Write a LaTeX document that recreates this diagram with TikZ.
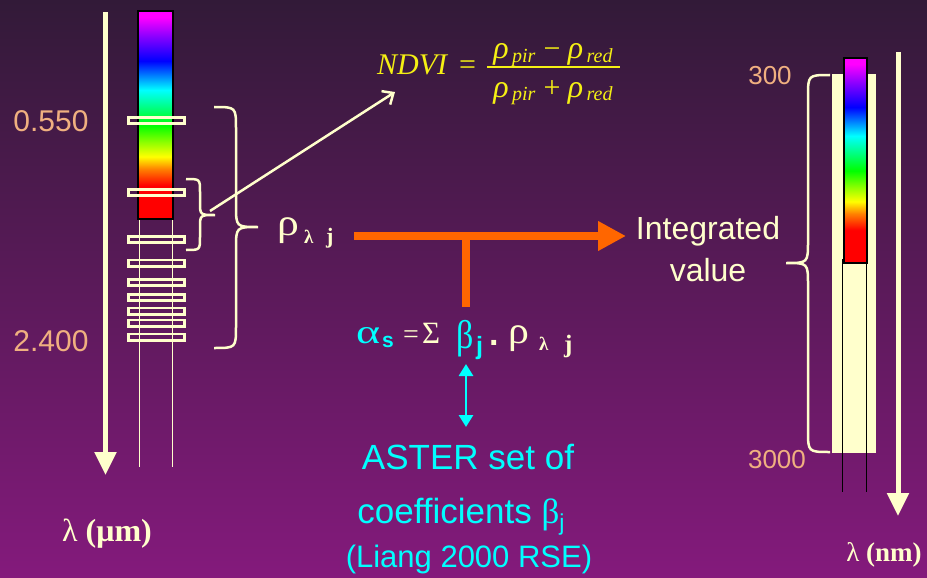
\documentclass[tikz,border=0pt]{standalone}
\usepackage{fontspec}
\usepackage{graphicx}
\setmainfont{Liberation Sans}
\newfontfamily\serif{Liberation Serif}
\newfontfamily\sansbold{Liberation Sans Bold}
\usetikzlibrary{arrows.meta}
\definecolor{cream}{RGB}{255,255,204}
\definecolor{salmon}{RGB}{240,176,128}
\definecolor{bgtop}{RGB}{50,26,56}
\definecolor{bgbot}{RGB}{132,26,124}
\definecolor{orng}{RGB}{255,102,0}
\definecolor{cyn}{RGB}{0,255,255}
\definecolor{ylw}{RGB}{245,240,20}
\definecolor{spM}{RGB}{255,0,255}
\definecolor{spV}{RGB}{140,0,255}
\definecolor{spB}{RGB}{0,0,255}
\definecolor{spA}{RGB}{0,128,255}
\definecolor{spC}{RGB}{0,255,255}
\definecolor{spG}{RGB}{0,255,0}
\definecolor{spL}{RGB}{140,255,0}
\definecolor{spY}{RGB}{255,255,0}
\definecolor{spO}{RGB}{255,128,0}
\definecolor{spR}{RGB}{255,0,0}
\pgfdeclareverticalshading{spec}{100bp}{color(0bp)=(spR); color(25bp)=(spR); color(33bp)=(spR); color(37bp)=(spO); color(40bp)=(spY); color(43.5bp)=(spL); color(47.5bp)=(spG); color(56bp)=(spC); color(59.5bp)=(spA); color(63bp)=(spB); color(69bp)=(spV); color(73.5bp)=(spM); color(100bp)=(spM)}
\newcommand\myfs[1]{\fontsize{#1}{#1}\selectfont}
\tikzset{
  txt/.style={inner sep=0pt, anchor=base west},
  ctxt/.style={inner sep=0pt, anchor=base},
  brace/.style={draw=cream, line width=2.5pt},
  band/.style={draw=cream, line width=2.6pt},
  axisarrow/.style={draw=cream, line width=5pt, -{Triangle[length=23pt,width=21pt]}},
}
\begin{document}
\begin{tikzpicture}[x=1pt,y=-1pt]
\useasboundingbox (0,0) rectangle (927,578);
\shade[top color=bgtop,bottom color=bgbot] (0,0) rectangle (927,578);

% ---------- left scale ----------
\coordinate (la1) at (105.5,12);
\coordinate (la2) at (105.5,475);
\draw[axisarrow] (la1) -- (la2);
\draw[cream, line width=1pt] (139,219) -- (139,467);
\draw[cream, line width=1pt] (172,219) -- (172,467);
\shade[shading=spec] (138,11) rectangle (173,219);
\draw[black, line width=1.3pt] (138,11) rectangle (173,219);
\foreach \c in {120.5,192.5,239.5,263,282.5,297.5,311,323,337}
  \draw[band] (128.3,{\c-3.2}) rectangle (184.7,{\c+3.2});

\node[salmon, inner sep=0pt, font=\myfs{30}] (t550) at (51,121) {0.550};
\node[salmon, inner sep=0pt, font=\myfs{30}] (t2400) at (51,341) {2.400};
\node[cream, ctxt, font=\myfs{32}\serif] (lum) at (107,541) {λ \textbf{(μm)}};

% braces
\draw[brace] (186,179) .. controls (200,179) .. (200,192) -- (200,202)
  .. controls (200,215) .. (215,215) .. controls (200,215) .. (200,228)
  -- (200,237) .. controls (200,250) .. (186,250);
\draw[brace] (214,107) .. controls (236,107) .. (236,129) -- (236,205)
  .. controls (236,227) .. (258,227) .. controls (236,227) .. (236,249)
  -- (236,326) .. controls (236,348) .. (214,348);

% rho lambda j
\node[cream, txt, font=\myfs{38}\serif] (rho1) at (277,235) {\scalebox{1.15}[1]{ρ}};
\node[cream, txt, font=\myfs{19}\serif\bfseries] (lj1) at (304,243) {λ};
\node[cream, txt, font=\myfs{22}\serif\bfseries] (jj1) at (326,243) {j};

% arrow to NDVI
\coordinate (sb) at (210,211);
\coordinate (nd) at (395,92);
\draw[cream, line width=2.5pt, -{Straight Barb[length=9pt,width=16pt]}] (sb) -- (nd);

% NDVI formula
\node[ylw, txt, font=\myfs{30}\serif\itshape] (ndvi) at (377,75) {NDVI};
\node[ylw, txt, font=\myfs{30}\serif] (eq) at (459,75) {=};
\node[ylw, ctxt, font=\serif\itshape] (num) at (553,59) {\myfs{32}ρ\raisebox{-4pt}{\myfs{20}\,pir} \upshape\myfs{30}−\itshape\ \myfs{32}ρ\raisebox{-4pt}{\myfs{20}\,red}};
\node[ylw, ctxt, font=\serif\itshape] (den) at (553,97) {\myfs{32}ρ\raisebox{-4pt}{\myfs{20}\,pir} \upshape\myfs{30}+\itshape\ \myfs{32}ρ\raisebox{-4pt}{\myfs{20}\,red}};
\coordinate (fb1) at (487,67);
\coordinate (fb2) at (620,67);
\draw[ylw, line width=1.3pt] (fb1) -- (fb2);

% orange T arrow
\coordinate (o1) at (354,236);
\coordinate (o2) at (626,236);
\coordinate (o3) at (466,236);
\coordinate (o4) at (466,307);
\draw[orng, line width=8pt, -{Triangle[length=28pt,width=28pt]}] (o1) -- (o2);
\draw[orng, line width=8pt] (o3) -- (o4);

% Integrated value
\node[cream, ctxt, font=\myfs{32}] (int) at (708,239) {Integrated};
\node[cream, ctxt, font=\myfs{32}] (val) at (708,281) {value};

% alpha formula
\node[cyn, txt, font=\myfs{34}\serif] (alpha) at (356,343) {\scalebox{1.35}[1]{α}};
\node[cyn, txt, font=\myfs{21}\sansbold] (sub-s) at (382,347) {s};
\node[cream, txt, font=\myfs{28}\serif] (eqs) at (403,343) {=};
\node[cream, txt, font=\myfs{31}\serif] (sigma) at (422,343) {Σ};
\node[cyn, txt, font=\myfs{40}\serif] (beta) at (456,348) {\scalebox{0.85}[1]{β}};
\node[cyn, txt, font=\myfs{25}\sansbold] (sub-j) at (476,354) {j};
\node[cream, txt, font=\myfs{34}\sansbold] (dot) at (489,345) {.};
\node[cream, txt, font=\myfs{38}\serif] (rho2) at (508,343) {\scalebox{1.1}[1]{ρ}};
\node[cream, txt, font=\myfs{19}\serif\bfseries] (lam2) at (539,350) {λ};
\node[cream, txt, font=\myfs{25}\serif\bfseries] (j2) at (564,352) {j};

% cyan double arrow
\coordinate (c1) at (466,364);
\coordinate (c2) at (466,427);
\draw[cyn, line width=2.8pt, {Triangle[length=12pt,width=14pt]}-{Triangle[length=12pt,width=14pt]}] (c1) -- (c2);

% ASTER text
\node[cyn, ctxt, font=\myfs{35}] (ast) at (468,469) {ASTER set of};
\node[cyn, ctxt, font=\myfs{35}] (coef) at (461,523) {coefficients {\serif β}\raisebox{-7pt}{\myfs{23}j}};
\node[cyn, ctxt, font=\myfs{31}] (liang) at (469,567) {(Liang 2000 RSE)};

% ---------- right scale ----------
\fill[cream] (832,74) rectangle (876,453);
\shade[shading=spec] (844,58) rectangle (867,263);
\draw[black, line width=1.3pt] (844,58) rectangle (867,263);
\draw[black, line width=1pt] (842,259) -- (842,492);
\draw[black, line width=1pt] (866,263) -- (866,492);
\coordinate (ra1) at (898,52);
\coordinate (ra2) at (898,516);
\draw[axisarrow] (ra1) -- (ra2);
\draw[brace] (830,75) .. controls (808,75) .. (808,97) -- (808,241)
  .. controls (808,263) .. (786,263) .. controls (808,263) .. (808,285)
  -- (808,430) .. controls (808,452) .. (830,452);
\node[salmon, inner sep=0pt, font=\myfs{26}] (t300) at (770,76) {300};
\node[salmon, inner sep=0pt, font=\myfs{26}] (t3000) at (777,460) {3000};
\node[cream, ctxt, font=\myfs{27}\serif] (lnm) at (884,561) {λ \textbf{(nm)}};
\end{tikzpicture}
\end{document}
